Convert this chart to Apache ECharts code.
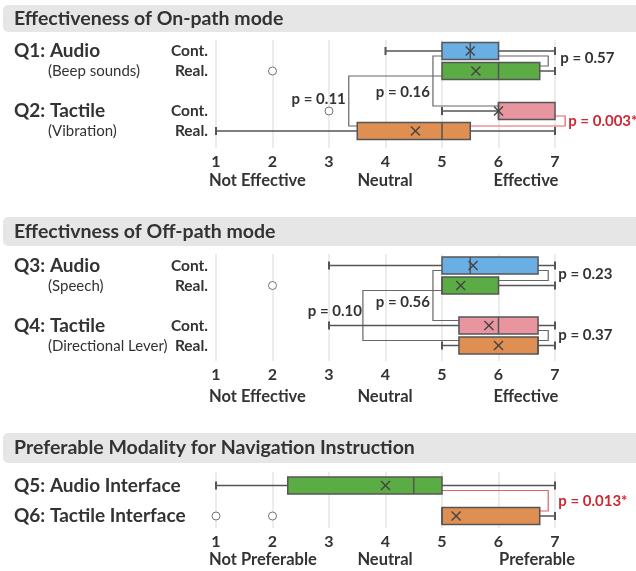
<!DOCTYPE html>
<html><head><meta charset="utf-8">
<script src="https://cdn.jsdelivr.net/npm/echarts@6/dist/echarts.min.js"></script>
<style>html,body{margin:0;padding:0;background:#fff}#c{width:636px;height:571px}</style>
</head><body><div id="c"></div>
<script>
// ================= DATA =================
const scaleMin = 1, scaleMax = 7;

// --- Section 1: Effectiveness of On-path mode ---
const onPathTitle = 'Effectiveness of On-path mode';
const onPathCategories = ['Q1|Cont.', 'Q1|Real.', 'gap|', 'Q2|Cont.', 'Q2|Real.'];
const onPathBoxRows = ['Q1|Cont.', 'Q1|Real.', 'Q2|Cont.', 'Q2|Real.'];
// [min, q1, median, q3, max]
const onPathStats = [[4, 5, 5.5, 6, 7], [5, 5, 6, 6.73, 7], [5, 6, 6, 7, 7], [1, 3.5, 5, 5.5, 7]];
const onPathMeans = [5.5, 5.6, 6.0, 4.53];
const onPathOutlierRows = ['Q1|Real.', 'Q2|Cont.'];
const onPathOutlierValues = [2, 3];
// [rowA, xA, rowB, xB, xVertical]
const onPathBrackets = [
  ['Q1|Cont.', 6, 'Q1|Real.', 6.73, 6.88],
  ['Q1|Cont.', 5, 'Q2|Cont.', 6, 4.84],
  ['Q1|Real.', 5, 'Q2|Real.', 3.5, 3.35],
  ['Q2|Cont.', 7, 'Q2|Real.', 5.5, 7.18]
];
const onPathPValues = ['p = 0.57', 'p = 0.16', 'p = 0.11', 'p = 0.003**'];
const onPathQuestions = ['Q1: Audio', 'Q2: Tactile'];
const onPathSubtitles = ['(Beep sounds)', '(Vibration)'];
const effectAnchors = ['Not Effective', 'Neutral', 'Effective'];

// --- Section 2: Effectivness of Off-path mode ---
const offPathTitle = 'Effectivness of Off-path mode';
const offPathCategories = ['Q3|Cont.', 'Q3|Real.', 'gap|', 'Q4|Cont.', 'Q4|Real.'];
const offPathBoxRows = ['Q3|Cont.', 'Q3|Real.', 'Q4|Cont.', 'Q4|Real.'];
const offPathStats = [[3, 5, 5.5, 6.7, 7], [5, 5, 5, 6, 7], [3, 5.3, 6, 6.7, 7], [5, 5.3, 6.7, 6.7, 7]];
const offPathMeans = [5.55, 5.33, 5.83, 6.0];
const offPathOutlierRows = ['Q3|Real.'];
const offPathOutlierValues = [2];
const offPathBrackets = [
  ['Q3|Cont.', 6.7, 'Q3|Real.', 6, 6.88],
  ['Q3|Cont.', 5, 'Q4|Cont.', 5.3, 4.84],
  ['Q3|Real.', 5, 'Q4|Real.', 5.3, 3.6],
  ['Q4|Cont.', 6.7, 'Q4|Real.', 6.7, 6.88]
];
const offPathPValues = ['p = 0.23', 'p = 0.56', 'p = 0.10', 'p = 0.37'];
const offPathQuestions = ['Q3: Audio', 'Q4: Tactile'];
const offPathSubtitles = ['(Speech)', '(Directional Lever)'];

// --- Section 3: Preferable Modality ---
const prefTitle = 'Preferable Modality for Navigation Instruction';
const prefCategories = ['Q5: Audio Interface', 'Q6: Tactile Interface'];
const prefBoxRows = ['Q5: Audio Interface', 'Q6: Tactile Interface'];
const prefStats = [[1, 2.27, 4.5, 5, 7], [5, 5, 5, 6.73, 7]];
const prefMeans = [4.0, 5.25];
const prefOutlierRows = ['Q6: Tactile Interface', 'Q6: Tactile Interface'];
const prefOutlierValues = [1, 2];
const prefBrackets = [['Q5: Audio Interface', 5, 'Q6: Tactile Interface', 6.73, 6.88]];
const prefPValues = ['p = 0.013*'];
const prefAnchors = ['Not Preferable', 'Neutral', 'Preferable'];

// ================= STYLE =================
const FONT = 'Lato, "Open Sans", sans-serif';
const TXT = '#333';
const BLUE = '#6aafe4', GREEN = '#5cac46', PINK = '#e8959f', ORANGE = '#e08f52';
const RED = '#cc2936', RED_LINE = '#e0606a', EDGE = '#555';
const fourColors = [BLUE, GREEN, PINK, ORANGE];
const prefColors = [GREEN, ORANGE];
// bracket label styles: side, dx, dy, significant
const onPathBracketStyle = [['right', 12, -3, false], ['left', -3, 11, false], ['left', -3, -2, false], ['right', 3, 0, true]];
const offPathBracketStyle = [['right', 10, -1, false], ['left', -3, 7, false], ['left', -1, -4, false], ['right', 10, 0, false]];
const prefBracketStyle = [['right', 10, 0, true]];

const AX_LEFT = 216, AX_WIDTH = 339;

// ================= BUILD =================
const grids = [], xAxes = [], yAxes = [], series = [], graphic = [];

function boxRender(params, api) {
  const r = api.value(0);
  const mn = api.value(1), q1 = api.value(2), md = api.value(3), q3 = api.value(4), mx = api.value(5), mean = api.value(6);
  const X = v => api.coord([v, r])[0];
  const y = api.coord([q1, r])[1];
  const h = 8.5, cap = 4, color = api.visual('color');
  const line = { stroke: EDGE, lineWidth: 1.5 };
  const ch = [];
  if (mn < q1) {
    ch.push({ type: 'line', shape: { x1: X(mn), y1: y, x2: X(q1), y2: y }, style: line });
    ch.push({ type: 'line', shape: { x1: X(mn), y1: y - cap, x2: X(mn), y2: y + cap }, style: { stroke: EDGE, lineWidth: 2 } });
  }
  if (mx > q3) {
    ch.push({ type: 'line', shape: { x1: X(q3), y1: y, x2: X(mx), y2: y }, style: line });
    ch.push({ type: 'line', shape: { x1: X(mx), y1: y - cap, x2: X(mx), y2: y + cap }, style: { stroke: EDGE, lineWidth: 2 } });
  }
  ch.push({ type: 'rect', shape: { x: X(q1), y: y - h, width: X(q3) - X(q1), height: 2 * h }, style: { fill: color, stroke: EDGE, lineWidth: 1.5 } });
  ch.push({ type: 'line', shape: { x1: X(md), y1: y - h, x2: X(md), y2: y + h }, style: line });
  const mxp = X(mean), s = 4.5;
  ch.push({ type: 'line', shape: { x1: mxp - s, y1: y - s, x2: mxp + s, y2: y + s }, style: { stroke: '#444', lineWidth: 1.4 } });
  ch.push({ type: 'line', shape: { x1: mxp - s, y1: y + s, x2: mxp + s, y2: y - s }, style: { stroke: '#444', lineWidth: 1.4 } });
  return { type: 'group', children: ch };
}

function bracketRender(labels, styles) {
  return function (params, api) {
    const i = params.dataIndex;
    const ra = api.value(0), xa = api.value(1), rb = api.value(2), xb = api.value(3), xv = api.value(4);
    const A = api.coord([xa, ra]), B = api.coord([xb, rb]);
    const V = api.coord([xv, ra]);
    const yA = A[1] + 5, yB = B[1] - 5;
    const st = styles[i];
    const sig = st[3];
    const pts = [[A[0], yA], [V[0], yA], [V[0], yB], [B[0], yB]];
    const ty = (yA + yB) / 2 + st[2];
    const tx = V[0] + st[1];
    return {
      type: 'group', children: [
        { type: 'polyline', shape: { points: pts }, style: { stroke: sig ? RED_LINE : '#666', lineWidth: 1.2, fill: null } },
        { type: 'text', x: tx, y: ty, style: { text: labels[i], fill: sig ? RED : TXT, font: 'bold 15px ' + FONT,
          align: st[0] === 'right' ? 'left' : 'right', verticalAlign: 'middle',
          textAlign: st[0] === 'right' ? 'left' : 'right', textVerticalAlign: 'middle' } }
      ]
    };
  };
}

function midText(x, y, text, font, align) {
  return { type: 'text', x: x, y: y, style: { text: text, fill: TXT, font: font, align: align, verticalAlign: 'middle', textAlign: align, textVerticalAlign: 'middle' } };
}

function addSection(cfg) {
  const gA = grids.length;
  grids.push({ left: AX_LEFT, width: AX_WIDTH, top: cfg.aTop, height: cfg.aHeight });
  grids.push({ left: AX_LEFT, width: AX_WIDTH, top: cfg.bTop, height: cfg.bHeight });
  const gB = gA + 1;
  xAxes.push({
    gridIndex: gA, type: 'value', min: scaleMin, max: scaleMax, interval: 1,
    axisLine: { show: false }, axisTick: { show: false },
    splitLine: { show: true, lineStyle: { color: '#e6e6e6', width: 1.5 } },
    axisLabel: { color: TXT, fontFamily: FONT, fontWeight: 'bold', fontSize: 16, margin: 6 }
  });
  yAxes.push({ gridIndex: gA, type: 'value', show: false, min: 0, max: 1 });
  xAxes.push({ gridIndex: gB, type: 'value', min: scaleMin, max: scaleMax, show: false, splitLine: { show: false } });
  yAxes.push({
    gridIndex: gB, type: 'category', data: cfg.categories, inverse: true,
    axisLine: { show: false }, axisTick: { show: false }, splitLine: { show: false },
    axisLabel: Object.assign({ interval: 0, hideOverlap: false }, cfg.yLabel)
  });
  const idx = n => cfg.categories.indexOf(n);
  series.push({
    type: 'custom', xAxisIndex: gB, yAxisIndex: gB, renderItem: boxRender, z: 3,
    encode: { x: [1, 2, 3, 4, 5, 6], y: 0 },
    data: cfg.boxRows.map((r, i) => ({ value: [idx(r)].concat(cfg.stats[i], [cfg.means[i]]), itemStyle: { color: cfg.colors[i] } }))
  });
  series.push({
    type: 'scatter', xAxisIndex: gB, yAxisIndex: gB, symbol: 'circle', symbolSize: 8, z: 3,
    itemStyle: { color: '#fff', borderColor: EDGE, borderWidth: 1 },
    data: cfg.outRows.map((r, i) => [cfg.outVals[i], idx(r)])
  });
  series.push({
    type: 'custom', xAxisIndex: gB, yAxisIndex: gB, z: 2,
    renderItem: bracketRender(cfg.pvals, cfg.bstyle),
    encode: { x: [1, 3, 4], y: [0, 2] },
    data: cfg.brackets.map(b => [idx(b[0]), b[1], idx(b[2]), b[3], b[4]])
  });
  // header band
  graphic.push({ type: 'rect', left: 3, top: cfg.hTop, shape: { width: 660, height: cfg.hH, r: 5 }, style: { fill: '#e6e6e6' }, z: 0 });
  graphic.push(Object.assign(midText(14, cfg.hTop + cfg.hH / 2, cfg.title, 'bold 19.5px ' + FONT, 'left'), { z: 1 }));
  // anchor descriptors
  const anc = cfg.anchors, aFont = 'bold 16.5px ' + FONT;
  graphic.push(midText(209, cfg.ancY, anc[0], aFont, 'left'));
  graphic.push(midText(cfg.ancX[1], cfg.ancY, anc[1], aFont, 'center'));
  graphic.push(midText(cfg.ancX[2], cfg.ancY, anc[2], aFont, 'center'));
  // question labels
  if (cfg.questions) {
    cfg.questions.forEach((q, i) => {
      graphic.push(midText(14, cfg.qY[i], q, 'bold 19px ' + FONT, 'left'));
      graphic.push(midText(48, cfg.qY[i] + 20, cfg.subs[i], '15px ' + FONT, 'left'));
    });
  }
}

const catLabel = { color: TXT, fontFamily: FONT, fontWeight: 'bold', fontSize: 15.5, margin: 8, formatter: v => v.split('|')[1] };

addSection({
  title: onPathTitle, hTop: 5, hH: 27,
  aTop: 40, aHeight: 108, bTop: 41, bHeight: 100,
  categories: onPathCategories, boxRows: onPathBoxRows, stats: onPathStats, means: onPathMeans, colors: fourColors,
  outRows: onPathOutlierRows, outVals: onPathOutlierValues,
  brackets: onPathBrackets, pvals: onPathPValues, bstyle: onPathBracketStyle,
  yLabel: catLabel, anchors: effectAnchors, ancY: 181, ancX: [0, 385, 526],
  questions: onPathQuestions, subs: onPathSubtitles, qY: [51, 111]
});
addSection({
  title: offPathTitle, hTop: 217, hH: 29,
  aTop: 254, aHeight: 107, bTop: 255.5, bHeight: 100,
  categories: offPathCategories, boxRows: offPathBoxRows, stats: offPathStats, means: offPathMeans, colors: fourColors,
  outRows: offPathOutlierRows, outVals: offPathOutlierValues,
  brackets: offPathBrackets, pvals: offPathPValues, bstyle: offPathBracketStyle,
  yLabel: catLabel, anchors: effectAnchors, ancY: 397, ancX: [0, 385, 526],
  questions: offPathQuestions, subs: offPathSubtitles, qY: [266, 326]
});
addSection({
  title: prefTitle, hTop: 433, hH: 30,
  aTop: 472, aHeight: 56, bTop: 470.25, bHeight: 61,
  categories: prefCategories, boxRows: prefBoxRows, stats: prefStats, means: prefMeans, colors: prefColors,
  outRows: prefOutlierRows, outVals: prefOutlierValues,
  brackets: prefBrackets, pvals: prefPValues, bstyle: prefBracketStyle,
  yLabel: { color: TXT, fontFamily: FONT, fontWeight: 'bold', fontSize: 19, margin: 202, align: 'left' },
  anchors: prefAnchors, ancY: 560, ancX: [0, 385, 537]
});

const chart = echarts.init(document.getElementById('c'), null, { renderer: 'canvas' });
chart.setOption({
  animation: false,
  backgroundColor: '#fff',
  textStyle: { fontFamily: FONT },
  grid: grids, xAxis: xAxes, yAxis: yAxes, series: series, graphic: graphic
});
</script></body></html>
